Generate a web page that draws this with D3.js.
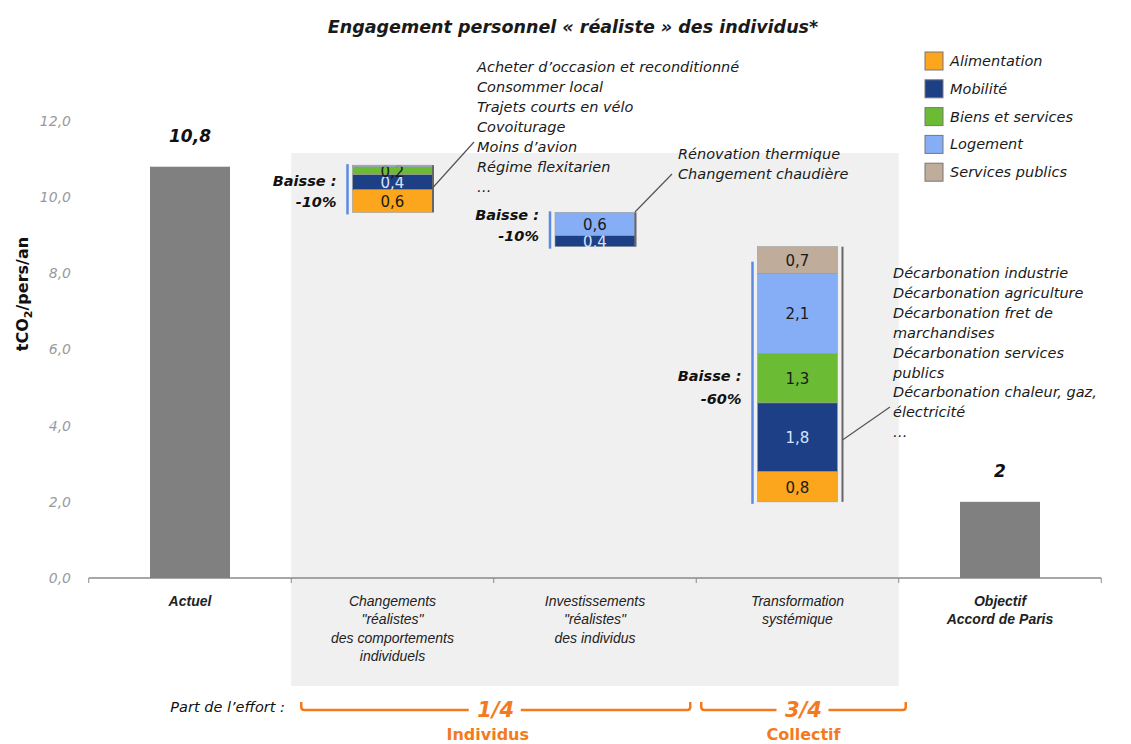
<!DOCTYPE html>
<html>
<head>
<meta charset="utf-8">
<script src="https://cdn.jsdelivr.net/npm/d3@7"></script>
<style>
body { margin: 0; background: #fff; }
svg { display: block; }
text { font-family: "DejaVu Sans", sans-serif; }
</style>
</head>
<body>
<svg id="chart" width="1131" height="744"></svg>
<script>
// data
var categories = ["Actuel", "Changements", "Investissements", "Transformation", "Objectif"];
var categoryLines = [
	["Actuel"],
	["Changements", "\"réalistes\"", "des comportements", "individuels"],
	["Investissements", "\"réalistes\"", "des individus"],
	["Transformation", "systémique"],
	["Objectif", "Accord de Paris"]
];
var sectors = ["Alimentation", "Mobilité", "Biens et services", "Logement", "Services publics"];
var sectorColors = ["#fba61c", "#1d3f86", "#6cbb34", "#86aef6", "#bfac9a"];
var actuel = 10.8;
var objectif = 2;
// stacks, bottom to top, in sector order
var changementsValues = [0.6, 0.4, 0.2, 0.04, 0];
var changementsLabels = ["0,6", "0,4", "0,2", "", ""];
var investissementsValues = [0, 0.3, 0, 0.6, 0];
var investissementsLabels = ["", "0,4", "", "0,6", ""];
var transformationValues = [0.8, 1.8, 1.3, 2.1, 0.7];
var transformationLabels = ["0,8", "1,8", "1,3", "2,1", "0,7"];
var baisseLabels = ["-10%", "-10%", "-60%"];
var yTicks = [0, 2, 4, 6, 8, 10, 12];
var notesChangements = ["Acheter d\u2019occasion et reconditionné", "Consommer local", "Trajets courts en vélo",
	"Covoiturage", "Moins d\u2019avion", "Régime flexitarien", "\u2026"];
var notesInvestissements = ["Rénovation thermique", "Changement chaudière"];
var notesTransformation = ["Décarbonation industrie", "Décarbonation agriculture", "Décarbonation fret de",
	"marchandises", "Décarbonation services", "publics", "Décarbonation chaleur, gaz,", "électricité", "\u2026"];
var effortParts = ["1/4", "3/4"];
var effortNames = ["Individus", "Collectif"];

var svg = d3.select('#chart');
var orange = '#f47a20';

var x = d3.scaleBand().domain(categories).range([88.75, 1101.25]).padding(0);
var y = d3.scaleLinear().domain([0, 12]).range([578, 121]);
var barW = x.bandwidth() * 0.395;
function barLeft(c) { return x(c) + (x.bandwidth() - barW) / 2; }
function center(c) { return x(c) + x.bandwidth() / 2; }

// grey zone behind the three middle categories
svg.append('rect')
	.attr('x', x('Changements'))
	.attr('y', 153)
	.attr('width', x('Objectif') - x('Changements'))
	.attr('height', 686 - 153)
	.style('fill', '#f0f0f0');

// title
svg.append('text')
	.attr('x', 573).attr('y', 33)
	.style('text-anchor', 'middle')
	.style('font-size', '17.5px')
	.style('font-weight', 'bold')
	.style('font-style', 'italic')
	.style('fill', '#1a1a1a')
	.text('Engagement personnel \u00ab r\u00e9aliste \u00bb des individus*');

// y axis
var yAxis = svg.append('g')
	.attr('transform', 'translate(88,0)')
	.call(d3.axisLeft(y).tickValues(yTicks).tickSize(0).tickPadding(17)
		.tickFormat(function(d) { return d3.format('.1f')(d).replace('.', ','); }));
yAxis.select('.domain').remove();
yAxis.selectAll('text')
	.style('font-family', '"DejaVu Sans", sans-serif')
	.style('font-size', '14px')
	.style('font-style', 'italic')
	.style('fill', '#9a9a9a');

var yt = svg.append('text')
	.attr('transform', 'translate(28,294) rotate(-90)')
	.style('text-anchor', 'middle')
	.style('font-size', '16px')
	.style('font-weight', 'bold')
	.style('fill', '#111');
yt.append('tspan').text('tCO');
yt.append('tspan').attr('dy', 4).style('font-size', '11px').text('2');
yt.append('tspan').attr('dy', -4).text('/pers/an');

// x axis line and ticks
svg.append('line')
	.attr('x1', 88.75).attr('x2', 1101.25)
	.attr('y1', y(0)).attr('y2', y(0))
	.style('stroke', '#8a8a8a').style('stroke-width', 1.5);
categories.concat(['end']).forEach(function(c, i) {
	var xx = i < categories.length ? x(c) : x.range()[1];
	svg.append('line')
		.attr('x1', xx).attr('x2', xx)
		.attr('y1', y(0)).attr('y2', y(0) + 5)
		.style('stroke', '#8a8a8a');
});

// category labels
categoryLines.forEach(function(lines, i) {
	var t = svg.append('text')
		.attr('x', center(categories[i]))
		.attr('y', 606)
		.style('text-anchor', 'middle')
		.style('font-family', '"Liberation Sans", sans-serif')
		.style('font-size', '14px')
		.style('font-style', 'italic')
		.style('font-weight', i == 0 || i == 4 ? 'bold' : 'normal')
		.style('fill', '#222');
	lines.forEach(function(l, j) {
		t.append('tspan').attr('x', center(categories[i])).attr('dy', j == 0 ? 0 : 18.3).text(l);
	});
});

// total bars
[[categories[0], actuel, '10,8'], [categories[4], objectif, '2']].forEach(function(d) {
	svg.append('rect')
		.attr('x', barLeft(d[0]))
		.attr('y', y(d[1]))
		.attr('width', barW)
		.attr('height', y(0) - y(d[1]))
		.style('fill', '#808080');
	svg.append('text')
		.attr('x', center(d[0]))
		.attr('y', y(d[1]) - 25)
		.style('text-anchor', 'middle')
		.style('font-size', '17px')
		.style('font-weight', 'bold')
		.style('font-style', 'italic')
		.style('fill', '#111')
		.text(d[2]);
});

// waterfall stacks
var stacks = [
	{cat: 'Changements', values: changementsValues, labels: changementsLabels, notes: notesChangements},
	{cat: 'Investissements', values: investissementsValues, labels: investissementsLabels, notes: notesInvestissements},
	{cat: 'Transformation', values: transformationValues, labels: transformationLabels, notes: notesTransformation}
];
var baisseShift = [5, -2, 15];
var level = actuel;
stacks.forEach(function(s, k) {
	var total = d3.sum(s.values);
	if (k == 0) total = d3.sum(s.values) - s.values[3]; // thin logement line sits on top
	var bottom = level - total;
	s.top = bottom + d3.sum(s.values);
	s.bottom = bottom;
	level = bottom;
	var acc = bottom;
	var x0 = barLeft(s.cat);
	s.values.forEach(function(v, i) {
		if (v <= 0) { return; }
		svg.append('rect')
			.attr('x', x0)
			.attr('y', y(acc + v))
			.attr('width', barW)
			.attr('height', y(acc) - y(acc + v))
			.style('fill', sectorColors[i])
			.style('stroke', '#9a9a9a')
			.style('stroke-width', 0.6);
		if (s.labels[i] != '') {
			svg.append('text')
				.attr('x', x0 + barW / 2)
				.attr('y', (y(acc) + y(acc + v)) / 2 + 6)
				.style('text-anchor', 'middle')
				.style('font-size', '15px')
				.style('fill', i == 1 ? '#d7e4ff' : '#1a1a1a')
				.text(s.labels[i]);
		}
		acc += v;
	});
	// blue bracket on the left
	var bTop = k == 2 ? y(s.top) + 15 : y(s.top) - 1;
	svg.append('line')
		.attr('x1', x0 - 5).attr('x2', x0 - 5)
		.attr('y1', bTop).attr('y2', y(s.bottom) + 2)
		.style('stroke', '#5a8ae4').style('stroke-width', 2.5);
	// dark bracket on the right
	var rx = x0 + barW + (k == 2 ? 5 : 0.5);
	svg.append('line')
		.attr('x1', rx).attr('x2', rx)
		.attr('y1', y(s.top)).attr('y2', y(s.bottom))
		.style('stroke', '#666').style('stroke-width', 2);
	// "Baisse" label
	var my = (y(s.top) + y(s.bottom)) / 2 + baisseShift[k];
	var bt = svg.append('text')
		.attr('x', x0 - 16)
		.attr('y', my - 8)
		.style('text-anchor', 'end')
		.style('font-size', '14.5px')
		.style('font-weight', 'bold')
		.style('font-style', 'italic')
		.style('fill', '#111');
	bt.append('tspan').attr('x', x0 - 16).text('Baisse :');
	bt.append('tspan').attr('x', x0 - 16).attr('dy', k == 2 ? 23 : 21).text(baisseLabels[k]);
});

// notes and leader lines
var noteSpecs = [
	{s: stacks[0], tx: 477, ty: 72, step: 20, lx1: 0, ly1: 188, lx2: 474, ly2: 142},
	{s: stacks[1], tx: 678, ty: 159, step: 19.5, lx1: 0, ly1: 212, lx2: 672, ly2: 174},
	{s: stacks[2], tx: 893, ty: 278, step: 19.9, lx1: 5, ly1: 440, lx2: 890, ly2: 407}
];
noteSpecs.forEach(function(n) {
	var rx = barLeft(n.s.cat) + barW + n.lx1;
	svg.append('line')
		.attr('x1', rx).attr('y1', n.ly1)
		.attr('x2', n.lx2).attr('y2', n.ly2)
		.style('stroke', '#555').style('stroke-width', 1.2);
	var t = svg.append('text')
		.attr('x', n.tx).attr('y', n.ty)
		.style('font-size', '14.5px')
		.style('font-style', 'italic')
		.style('fill', '#1a1a1a');
	n.s.notes.forEach(function(l, j) {
		t.append('tspan').attr('x', n.tx).attr('dy', j == 0 ? 0 : n.step).text(l);
	});
});

// legend
var legend = svg.append('g').attr('transform', 'translate(925,52)');
sectors.forEach(function(s, i) {
	var g = legend.append('g').attr('transform', 'translate(0,' + (i * 27.8) + ')');
	g.append('rect')
		.attr('width', 18).attr('height', 18)
		.style('fill', sectorColors[i])
		.style('stroke', '#777').style('stroke-width', 1);
	g.append('text')
		.attr('x', 25).attr('y', 14)
		.style('font-size', '14.5px')
		.style('font-style', 'italic')
		.style('fill', '#1a1a1a')
		.text(s);
});

// effort share
svg.append('text')
	.attr('x', 285).attr('y', 712)
	.style('text-anchor', 'end')
	.style('font-size', '14.5px')
	.style('font-style', 'italic')
	.style('fill', '#111')
	.text('Part de l\u2019effort :');

var braces = [
	{x1: x('Changements') + 10, x2: x('Transformation') - 6},
	{x1: x('Transformation') + 5, x2: x('Objectif') + 7}
];
braces.forEach(function(b, i) {
	var cx = (b.x1 + b.x2) / 2;
	svg.append('path')
		.attr('d', 'M' + b.x1 + ',702 L' + b.x1 + ',707 Q' + b.x1 + ',710 ' + (b.x1 + 3) + ',710 L' + (cx - 27) + ',710' +
			' M' + (cx + 25) + ',710 L' + (b.x2 - 3) + ',710 Q' + b.x2 + ',710 ' + b.x2 + ',707 L' + b.x2 + ',702')
		.style('fill', 'none')
		.style('stroke', orange).style('stroke-width', 2.5);
	svg.append('text')
		.attr('x', cx).attr('y', 717)
		.style('text-anchor', 'middle')
		.style('font-size', '21px')
		.style('font-weight', 'bold')
		.style('font-style', 'italic')
		.style('fill', orange)
		.text(effortParts[i]);
	svg.append('text')
		.attr('x', cx - (i == 0 ? 8 : 0)).attr('y', 740)
		.style('text-anchor', 'middle')
		.style('font-size', '16px')
		.style('font-weight', 'bold')
		.style('fill', orange)
		.text(effortNames[i]);
});
</script>
</body>
</html>
